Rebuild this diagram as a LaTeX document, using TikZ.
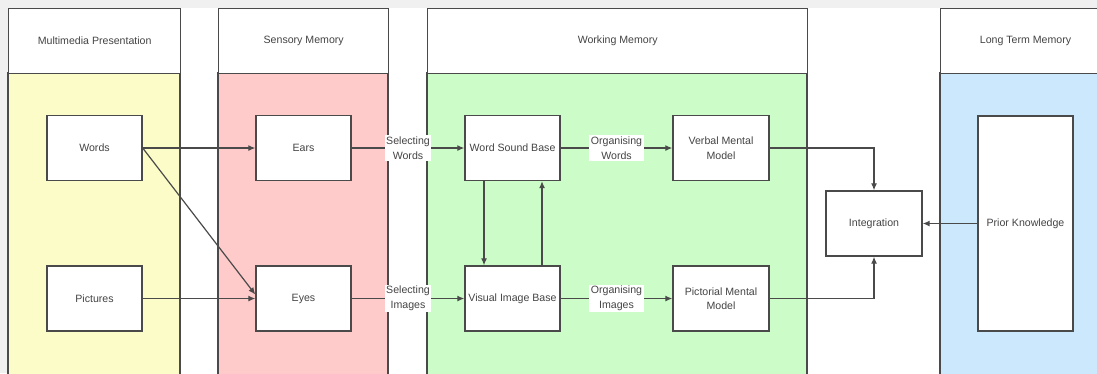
\documentclass[tikz,border=0pt]{standalone}
\usepackage{fontspec}
\setmainfont{Liberation Sans}
\usetikzlibrary{arrows.meta,calc}
\definecolor{laneY}{HTML}{FCFCC8}
\definecolor{laneR}{HTML}{FFCACA}
\definecolor{laneG}{HTML}{CCFCC8}
\definecolor{laneB}{HTML}{CCE8FC}
\definecolor{edge}{HTML}{4A4A4A}
\definecolor{txt}{HTML}{444444}
\tikzset{
  every node/.style={font=\fontsize{10.6}{14.5}\selectfont, text=txt},
  lane/.style={draw=edge, line width=1.4pt},
  header/.style={draw=edge, line width=1.4pt, fill=white, anchor=north west, minimum height=65pt, inner sep=0pt},
  box/.style={draw=edge, line width=1.4pt, fill=white, minimum width=95pt, minimum height=65pt, inner sep=1pt, align=center},
  arr/.style={draw=edge, line width=1.2pt, -{Latex[length=7pt,width=6pt]}},
  lbl/.style={fill=white, inner sep=1.5pt, align=center}
}
\begin{document}
\begin{tikzpicture}[x=1pt,y=-1pt]
\useasboundingbox (0,0) rectangle (1097,373);
\fill[gray!12] (0,0) rectangle (1097,373);
\fill[white] (8,8) rectangle (1097,373);
% lanes
\draw[lane, fill=laneY] (8,73) rectangle (180,380);
\draw[lane, fill=laneR] (218,73) rectangle (388,380);
\draw[lane, fill=laneG] (427,73) rectangle (807,380);
\draw[lane, fill=laneB] (940,73) rectangle (1110,380);
\node[header, minimum width=172pt] (h1) at (8,8) {Multimedia Presentation};
\node[header, minimum width=170pt] (h2) at (218,8) {Sensory Memory};
\node[header, minimum width=380pt] (h3) at (427,8) {Working Memory};
\node[header, minimum width=170pt] (h4) at (940,8) {};
\node (h4t) at (1025.5,40.5) {Long Term Memory};
% boxes
\node[box] (words) at (94.5,148) {Words};
\node[box] (pics) at (94.5,298.5) {Pictures};
\node[box] (ears) at (303.5,148) {Ears};
\node[box] (eyes) at (303.5,298.5) {Eyes};
\node[box] (wsb) at (512.5,148) {Word Sound Base};
\node[box] (vib) at (512.5,298.5) {Visual Image Base};
\node[box, minimum width=96pt] (vmm) at (721,148) {Verbal Mental\\Model};
\node[box, minimum width=96pt] (pmm) at (721,298.5) {Pictorial Mental\\Model};
\node[box, minimum width=96pt] (integ) at (874,223.5) {Integration};
\node[box, minimum height=215pt] (prior) at (1025.5,223.5) {Prior Knowledge};
% connectors
\draw[arr] (words.east) -- (ears.west);
\draw[arr] (words.east) -- ([yshift=4pt]eyes.west);
\draw[arr] (pics.east) -- (eyes.west);
\draw[arr] (ears.east) -- node[lbl] {Selecting\\Words} (wsb.west);
\draw[arr] (eyes.east) -- node[lbl] {Selecting\\Images} (vib.west);
\draw[arr] (wsb.east) -- node[lbl] {Organising\\Words} (vmm.west);
\draw[arr] (vib.east) -- node[lbl] {Organising\\Images} (pmm.west);
\draw[arr] ([xshift=-28.5pt]wsb.south) -- ([xshift=-28.5pt]vib.north);
\draw[arr] ([xshift=29.5pt]vib.north) -- ([xshift=29.5pt]wsb.south);
\draw[arr] (vmm.east) -| (integ.north);
\draw[arr] (pmm.east) -| (integ.south);
\draw[arr] (prior.west) -- (integ.east);
\end{tikzpicture}
\end{document}
